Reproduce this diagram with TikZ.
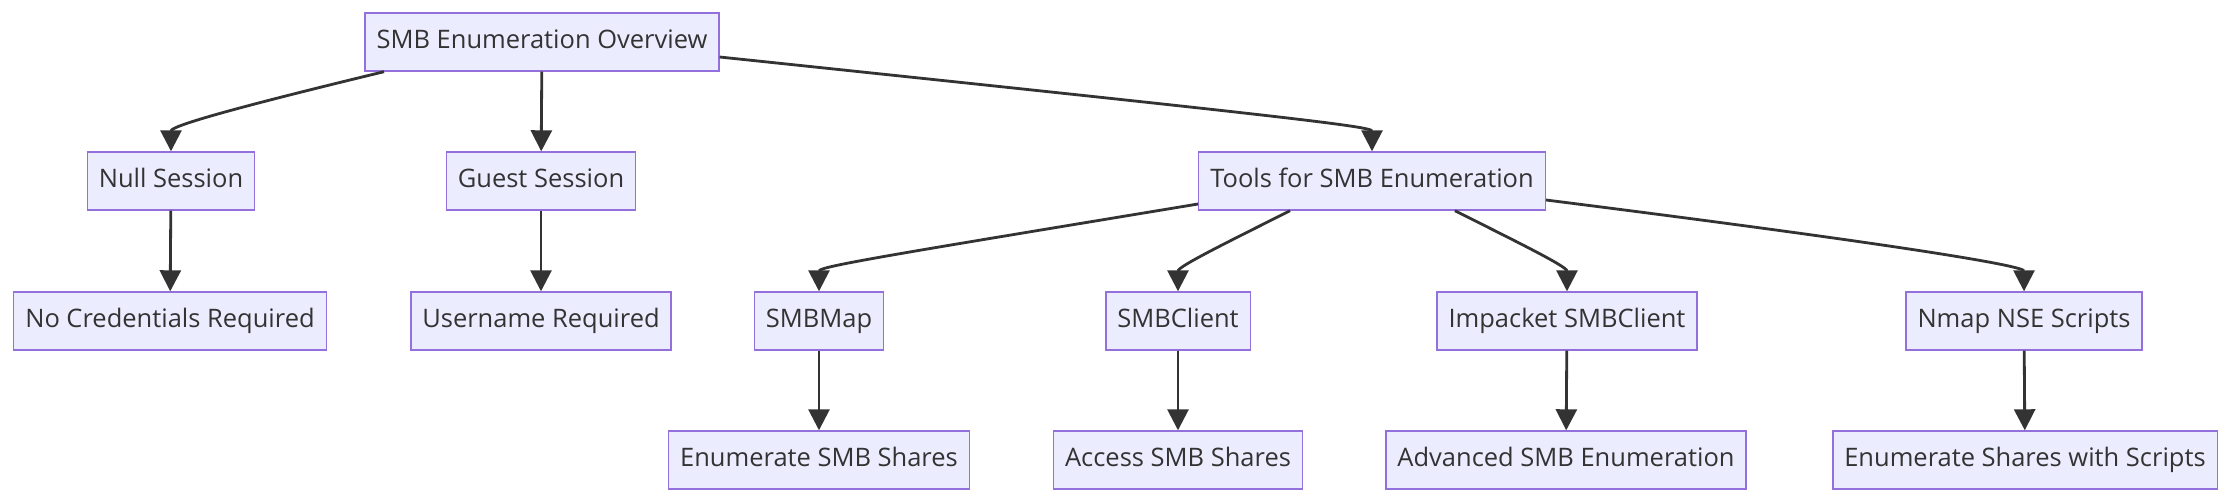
\documentclass[tikz,border=0pt]{standalone}
\usepackage{fontspec}
\setmainfont{Open Sans}
\usetikzlibrary{positioning,arrows.meta}
\definecolor{boxfill}{HTML}{ECECFF}
\definecolor{boxline}{HTML}{9370DB}
\definecolor{ink}{HTML}{333333}
\tikzset{
  box/.style={draw=boxline, fill=boxfill, line width=0.8pt, text=ink,
    minimum height=1.16cm, inner xsep=0.23cm, text height=10.9pt, text depth=3.6pt,
    font=\fontsize{14.5}{17}\selectfont},
  arr/.style={draw=ink, line width=1.6pt, -{Triangle[length=0.42cm,width=0.42cm]}}
}
\begin{document}
\begin{tikzpicture}
            \useasboundingbox (0,0) rectangle (44.64,-10.08);
            %Nodes
            \node[box] at (10.84,-0.84) (ov)      {SMB Enumeration Overview};
            \node[box] at (3.42,-3.62)  (null)    {Null Session};
            \node[box] at (10.82,-3.62) (guest)   {Guest Session};
            \node[box] at (27.44,-3.62) (tools)   {Tools for SMB Enumeration};
            \node[box] at (3.40,-6.42)  (nocred)  {No Credentials Required};
            \node[box] at (10.82,-6.42) (user)    {Username Required};
            \node[box] at (16.38,-6.42) (smbmap)  {SMBMap};
            \node[box] at (23.56,-6.42) (smbcl)   {SMBClient};
            \node[box] at (31.34,-6.42) (impk)    {Impacket SMBClient};
            \node[box] at (40.48,-6.42) (nmap)    {Nmap NSE Scripts};
            \node[box] at (16.38,-9.20) (enumsmb) {Enumerate SMB Shares};
            \node[box] at (23.56,-9.20) (access)  {Access SMB Shares};
            \node[box] at (31.32,-9.20) (adv)     {Advanced SMB Enumeration};
            \node[box] at (40.50,-9.20) (enumnse) {Enumerate Shares with Scripts};

            %Lines
            \draw[arr] ([xshift=-3.16cm]ov.south) .. controls +(193.6:3.3cm) and +(0,0.5) .. (null.north);
            \draw[arr] (ov) -- (guest);
            \draw[arr] ([yshift=-0.3cm]ov.east) .. controls +(-6:11cm) and +(0,0.5) .. (tools.north);
            \draw[arr] (null) -- (nocred);
            \draw[arr] (guest) -- (user);
            \draw[arr] ([yshift=-0.46cm]tools.west) .. controls +(189.4:6cm) and +(0,0.5) .. (smbmap.north);
            \draw[arr] ([xshift=-1.64cm]tools.south) .. controls +(206.8:1.3cm) and +(0,0.5) .. (smbcl.north);
            \draw[arr] ([xshift=1.66cm]tools.south) .. controls +(-26.8:1.3cm) and +(0,0.5) .. (impk.north);
            \draw[arr] ([yshift=-0.38cm]tools.east) .. controls +(-7.2:7.5cm) and +(0,0.5) .. (nmap.north);
            \draw[arr] (smbmap) -- (enumsmb);
            \draw[arr] (smbcl) -- (access);
            \draw[arr] (impk) -- (adv);
            \draw[arr] (nmap) -- (enumnse);
        \end{tikzpicture}
\end{document}
